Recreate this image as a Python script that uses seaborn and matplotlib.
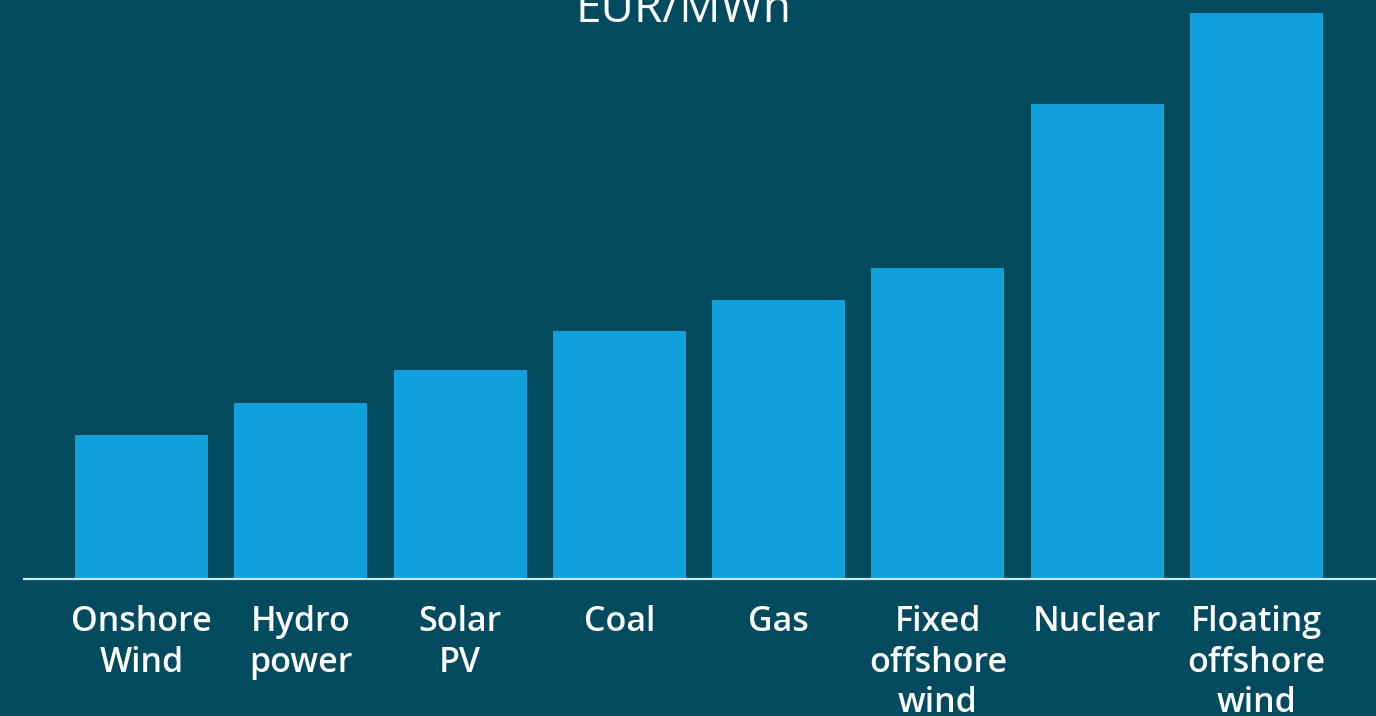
import matplotlib
matplotlib.use("Agg")
import matplotlib.pyplot as plt
import seaborn as sns
import pandas as pd

categories = ["Onshore\nWind", "Hydro\npower", "Solar\nPV", "Coal", "Gas",
              "Fixed\noffshore\nwind", "Nuclear", "Floating\noffshore\nwind"]
values = [144, 176, 209, 248, 279, 311, 475, 566]
title = "EUR/MWh"

BG = "#024a5e"
BAR = "#10a0dc"
LINE = "#cfe6ee"

sns.set_theme(style="white")
plt.rcParams["font.family"] = ["Open Sans", "DejaVu Sans"]

fig = plt.figure(figsize=(13.76, 7.16), dpi=100, facecolor=BG)
ax = fig.add_axes([24/1376, 137/716, 1 - 24/1376, 579/716])
ax.set_facecolor(BG)

df = pd.DataFrame({"cat": categories, "val": values})
sns.barplot(data=df, x="cat", y="val", color=BAR, saturation=1, width=0.835,
            linewidth=0, edgecolor=BAR, ax=ax)

ax.set_xlim(-0.738, 7.75)
ax.set_ylim(0, 579)
for s in ["top", "right", "left"]:
    ax.spines[s].set_visible(False)
ax.spines["bottom"].set_color(LINE)
ax.spines["bottom"].set_linewidth(1.6)
ax.spines["bottom"].set_zorder(5)
ax.set_xlabel("")
ax.set_ylabel("")
ax.set_yticks([])
ax.tick_params(axis="x", length=0, pad=19, colors="white")
for lab in ax.get_xticklabels():
    lab.set_fontsize(24.5)
    lab.set_fontweight("semibold")
    lab.set_color("white")
    lab.set_linespacing(1.25)

fig.text(683/1376, 1 - 22/716, title, ha="center", va="baseline",
         fontsize=33, color="white", fontweight="normal")

fig.savefig("out.png", dpi=100, facecolor=BG)
